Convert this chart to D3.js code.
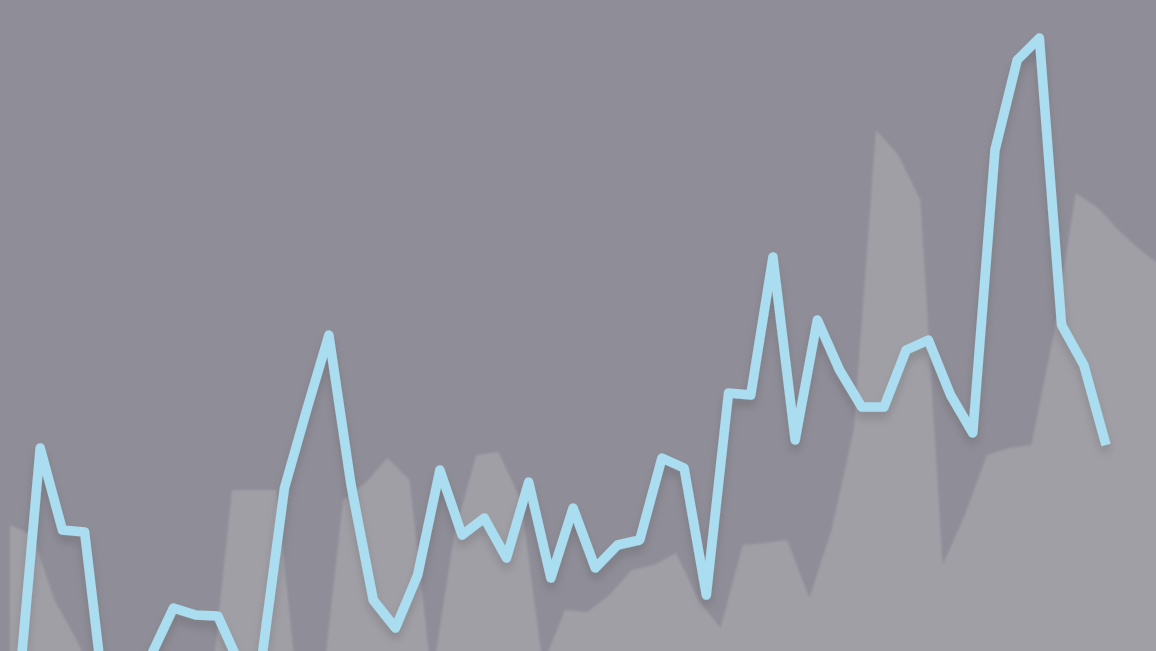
<!DOCTYPE html>
<html>
<head>
<meta charset="utf-8">
<script src="https://cdn.jsdelivr.net/npm/d3@7"></script>
<style>
  html, body { margin: 0; padding: 0; background: #8f8e98; overflow: hidden; }
  svg { display: block; }
</style>
</head>
<body>
<svg id="chart" width="1156" height="651"></svg>
<script>
// ---- data ----
const lineValues = [2, 252, 170, 168, -20, -20, 45, 92, 85, 84,
  35, 45, 212, 290, 365, 215, 100, 72, 125, 230,
  165, 182, 142, 218, 122, 192, 132, 155, 160, 242,
  232, 105, 307, 305, 443, 260, 380, 330, 293, 293,
  350, 360, 305, 267, 550, 640, 662, 375, 335, 255];

const areaValues = [175, 165, 100, 60, 10, 0, 0, 0, 0, 0,
  210, 210, 210, 0, 0, 200, 217, 242, 220, 20,
  165, 245, 248, 200, 35, 90, 88, 105, 130, 135,
  147, 100, 72, 155, 157, 160, 102, 170, 270, 570,
  545, 500, 135, 185, 245, 252, 255, 365, 507, 492,
  468, 448, 432];

const areaOffset = -0.36; // area series sampled slightly before the line series

// ---- drawing ----
const W = 1156, H = 651;
const svg = d3.select("#chart");

const x = d3.scaleLinear().domain([0, 49]).range([18, 1106]);
const y = d3.scaleLinear().domain([0, 700]).range([700, 0]);

const defs = svg.append("defs");
const f = defs.append("filter").attr("id", "shadow")
  .attr("x", "-10%").attr("y", "-10%").attr("width", "120%").attr("height", "130%");
f.append("feGaussianBlur").attr("in", "SourceAlpha").attr("stdDeviation", 5).attr("result", "b");
f.append("feOffset").attr("in", "b").attr("dx", 0).attr("dy", 7).attr("result", "o");
f.append("feComponentTransfer").attr("in", "o").attr("result", "s")
  .append("feFuncA").attr("type", "linear").attr("slope", 0.14);
f.append("feGaussianBlur").attr("in", "SourceGraphic").attr("stdDeviation", 0.7).attr("result", "g");
const m = f.append("feMerge");
m.append("feMergeNode").attr("in", "s");
m.append("feMergeNode").attr("in", "g");

const soft = defs.append("filter").attr("id", "soft");
soft.append("feGaussianBlur").attr("stdDeviation", 0.9);

svg.append("rect").attr("width", W).attr("height", H).attr("fill", "#8f8e98");

const areaData = areaValues.map((v, j) => ({ t: j + areaOffset, v }));
const area = d3.area()
  .x(d => x(d.t))
  .y0(y(0))
  .y1(d => y(d.v));

svg.append("path")
  .datum(areaData)
  .attr("d", area)
  .attr("fill", "#a09fa6")
  .attr("filter", "url(#soft)");

const lineData = lineValues.map((v, i) => ({ t: i, v }));
const line = d3.line().x(d => x(d.t)).y(d => y(d.v));

svg.append("path")
  .datum(lineData)
  .attr("d", line)
  .attr("fill", "none")
  .attr("stroke", "#a9ddef")
  .attr("stroke-width", 9.5)
  .attr("stroke-linejoin", "round")
  .attr("stroke-linecap", "butt")
  .attr("filter", "url(#shadow)");
</script>
</body>
</html>
